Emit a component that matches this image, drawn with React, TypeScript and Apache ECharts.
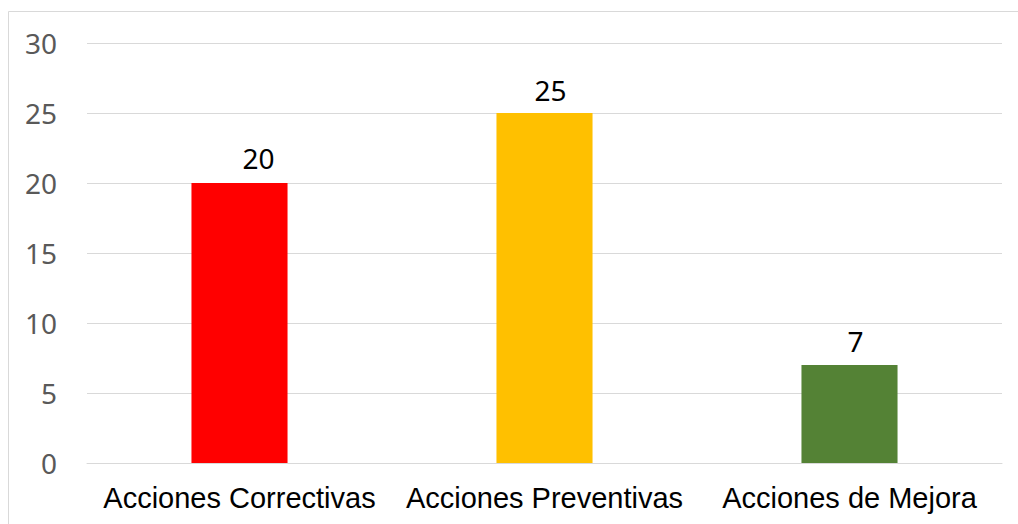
import React, { useEffect, useRef } from "react";
import * as echarts from "echarts";

const categories = ["Acciones Correctivas", "Acciones Preventivas", "Acciones de Mejora"];
const values = [20, 25, 7];
const barColors = ["#FF0000", "#FFC000", "#548235"];
const labelOffsets = [[19, -1], [6, 1], [6, 0]];

export default function App() {
  const ref = useRef<HTMLDivElement>(null);
  useEffect(() => {
    if (!ref.current) return;
    const chart = echarts.init(ref.current, null, { renderer: "svg" });
    chart.setOption({
      animation: false,
      backgroundColor: "#ffffff",
      grid: { left: 87, right: 16, top: 43, bottom: 61, containLabel: false },
      graphic: [
        { type: "line", shape: { x1: 8.5, y1: 11.5, x2: 8.5, y2: 524 }, style: { stroke: "#d9d9d9", lineWidth: 1 } },
        { type: "line", shape: { x1: 8.5, y1: 11.5, x2: 1018, y2: 11.5 }, style: { stroke: "#d9d9d9", lineWidth: 1 } },
      ],
      xAxis: {
        type: "category",
        data: categories,
        axisTick: { show: false },
        axisLine: { show: true, lineStyle: { color: "#d9d9d9", width: 1 } },
        axisLabel: { color: "#000000", fontFamily: "Liberation Sans", fontSize: 29, margin: 20, interval: 0, hideOverlap: false },
      },
      yAxis: {
        type: "value",
        min: 0,
        max: 30,
        interval: 5,
        axisLine: { show: false },
        axisTick: { show: false },
        splitLine: { lineStyle: { color: "#d9d9d9", width: 1 } },
        axisLabel: { color: "#595959", fontFamily: "Noto Sans", fontSize: 28, margin: 30 },
      },
      series: [
        {
          type: "bar",
          data: values.map((v, i) => ({
            value: v,
            itemStyle: { color: barColors[i] },
            label: { offset: labelOffsets[i] },
          })),
          barWidth: "31.5%",
          label: { show: true, position: "top", color: "#000000", fontFamily: "Noto Sans", fontSize: 28, distance: 10 },
        },
      ],
    });
    return () => chart.dispose();
  }, []);
  return <div ref={ref} style={{ position: "fixed", left: 0, top: 0, width: 1018, height: 524 }} />;
}
